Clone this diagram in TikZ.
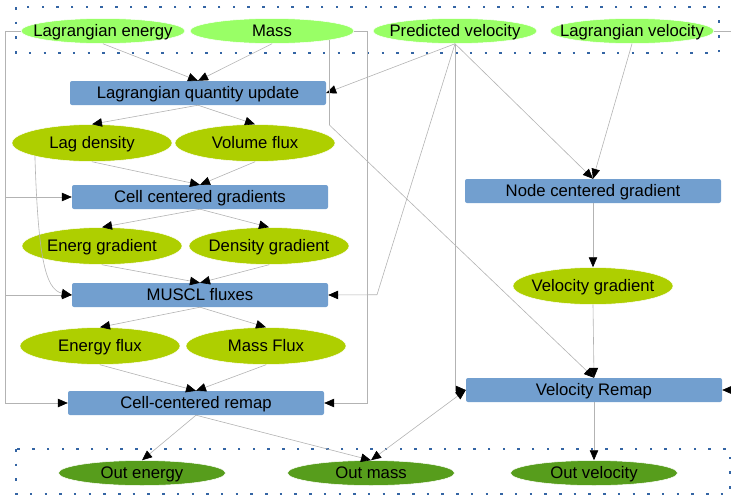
\documentclass[tikz,border=0pt]{standalone}
\usepackage{fontspec}
\setmainfont{Liberation Sans}
\usetikzlibrary{shapes.geometric,arrows.meta}
\definecolor{sourcegreen}{HTML}{99FF66}
\definecolor{datumgreen}{HTML}{AECF00}
\definecolor{resultgreen}{HTML}{579D1C}
\definecolor{stageblue}{HTML}{729FCF}
\definecolor{groupblue}{HTML}{3465A4}
\definecolor{linegray}{HTML}{B3B3B3}

\begin{document}
\begin{tikzpicture}[x = 1pt, y = -1pt,
  font     = \fontsize{16.7}{19}\selectfont,
  >        = {Triangle[length=10pt, width=8.5pt, color=black]},
  every node/.append style = {text height=11.9pt, text depth=0pt},
  source/.style   = {ellipse, fill=sourcegreen, draw=white, line width=0.5pt,
                     minimum width=164pt, minimum height=25pt, inner sep=0pt},
  datum/.style    = {ellipse, fill=datumgreen, draw=white, line width=0.5pt,
                     minimum width=160pt, minimum height=37pt, inner sep=0pt},
  result/.style   = {ellipse, fill=resultgreen, draw=white, line width=0.5pt,
                     minimum width=167pt, minimum height=25pt, inner sep=0pt},
  stage/.style    = {rectangle, rounded corners=2pt, fill=stageblue,
                     minimum width=256pt, minimum height=24pt, inner sep=0pt},
  flow/.style     = {draw=linegray, line width=0.6pt, ->},
  groupbox/.style = {draw=groupblue, line width=2.5pt,
                     dash pattern=on 2.5pt off 12.2pt}]
  \useasboundingbox (0,0) rectangle (731,496);

  \draw[groupbox] (16,7) rectangle (719,53);
  \draw[groupbox] (16,449) rectangle (730,494);

  \node[source, label=center:Lagrangian energy]   (le) at (103,31) {};
  \node[source, label=center:Mass]                (ma) at (272,31) {};
  \node[source, label=center:Predicted velocity]  (pv) at (455,31) {};
  \node[source, label=center:Lagrangian velocity] (lv) at (632,31) {};

  \node[stage] (lqu)   at (198,93)  {Lagrangian quantity update};
  \node[stage] (ccg)   at (200,197) {Cell centered gradients};
  \node[stage] (muscl) at (200,295) {MUSCL fluxes};
  \node[stage] (ccr)   at (196,403) {Cell-centered remap};
  \node[stage] (ncg)   at (593,191) {Node centered gradient};
  \node[stage] (vr)    at (594,390) {Velocity Remap};

  \node[datum, label=center:Lag density]       (ld) at (92,143)  {};
  \node[datum, label=center:Volume flux]       (vf) at (255,143) {};
  \node[datum, label=center:Energ gradient]    (eg) at (102,246) {};
  \node[datum, label=center:Density gradient]  (dg) at (269,246) {};
  \node[datum, label=center:Velocity gradient] (vg) at (593,286) {};
  \node[datum, label=center:Energy flux]       (ef) at (100,346) {};
  \node[datum, label=center:Mass Flux]         (mf) at (266,346) {};

  \node[result, label=center:Out energy]   (oe) at (142,473) {};
  \node[result, label=center:Out mass]     (om) at (371,473) {};
  \node[result, label=center:Out velocity] (ov) at (594,473) {};

  \draw[flow] (le.south) -- (lqu.north);
  \draw[flow] (ma.south) -- (lqu.north);
  \draw[flow] (pv.south) -- (lqu.east);
  \draw[flow] (lqu.south) -- (ld.north);
  \draw[flow] (lqu.south) -- (vf.north);
  \draw[flow] (ld.south) -- (ccg.north);
  \draw[flow] (vf.south) -- (ccg.north);
  \draw[flow] (ccg.south) -- (eg.north);
  \draw[flow] (ccg.south) -- (dg.north);
  \draw[flow] (eg.south) -- (muscl.north);
  \draw[flow] (dg.south) -- (muscl.north);
  \draw[flow] (muscl.south) -- (ef.north);
  \draw[flow] (muscl.south) -- (mf.north);
  \draw[flow] (ef.south) -- (ccr.north);
  \draw[flow] (mf.south) -- (ccr.north);
  \draw[flow] (ccr.south) -- (oe.north);
  \draw[flow] (ccr.south) -- (om.north);
  \draw[flow] (pv.south) -- (ncg.north);
  \draw[flow] (lv.south) -- (ncg.north);
  \draw[flow] (ncg.south) -- (vg.north);
  \draw[flow] (vg.south) -- (vr.north);
  \draw[flow] (vr.south) -- (ov.north);
  \draw[flow, <->] (om.north) -- (vr.west);
  \draw[flow] (le.west) -- ++(-15,0) |- (ccg.west);
  \draw[flow] (le.west) -- ++(-15,0) |- (muscl.west);
  \draw[flow] (le.west) -- ++(-15,0) |- (ccr.west);
  \draw[flow] (ld.193) .. controls (38,255) and (45,290) .. (muscl.west);
  \draw[flow] (ma.-9) -- ++(0,85) -- (vr.north);
  \draw[flow] (ma.east) -- ++(13,0) |- (ccr.east);
  \draw[flow] (pv.south) -- ++(-78,251) -- (muscl.east);
  \draw[flow] (pv.south) |- (vr.west);
  \draw[flow] (lv.east) -- ++(20,0) |- (vr.east);
\end{tikzpicture}
\end{document}
